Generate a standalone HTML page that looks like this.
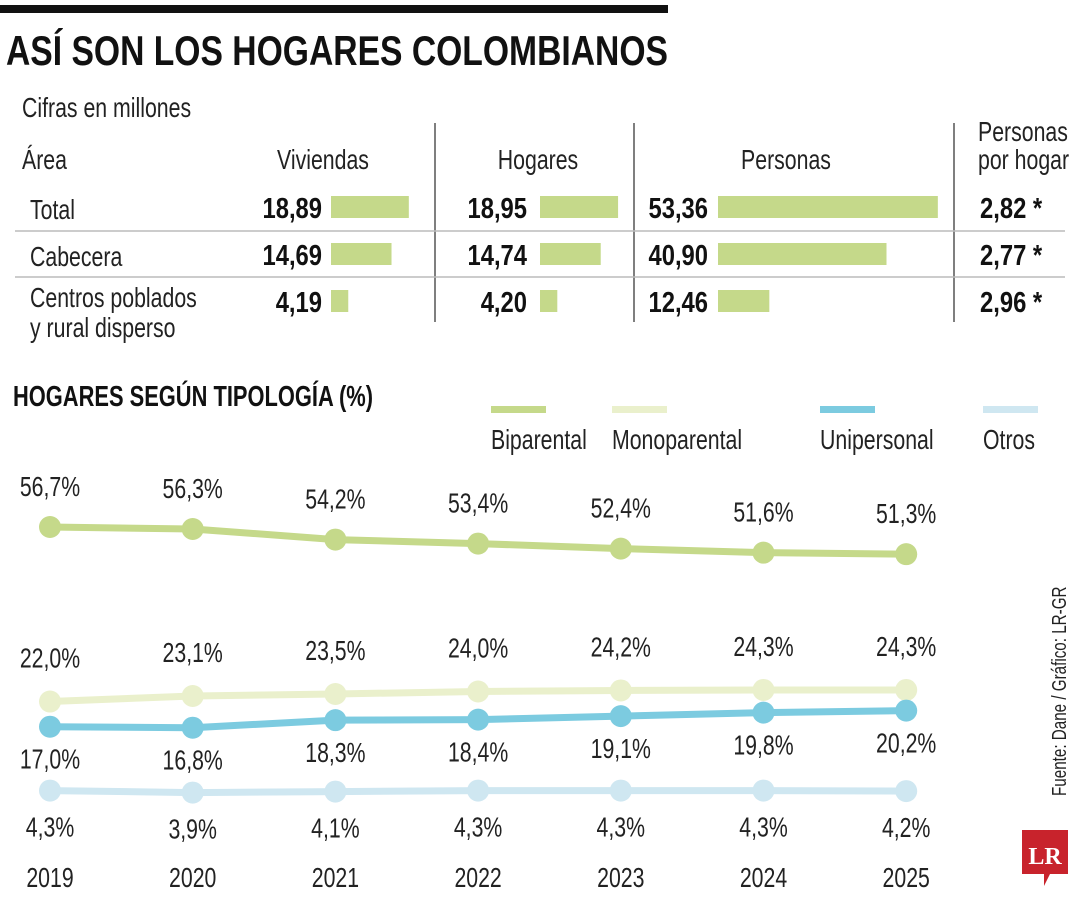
<!DOCTYPE html>
<html><head><meta charset="utf-8"><style>
html,body{margin:0;padding:0;background:#fff;}
svg{display:block;font-family:"Liberation Sans Narrow","Liberation Sans",sans-serif;}
</style></head><body>
<svg id="c" width="1080" height="900" viewBox="0 0 1080 900">
<rect x="0" y="5" width="668" height="8" fill="#111"/>
<text x="6" y="65" font-size="42" font-weight="bold" textLength="662" lengthAdjust="spacingAndGlyphs" fill="#111">ASÍ SON LOS HOGARES COLOMBIANOS</text>
<text x="22" y="117" font-size="28" fill="#222">Cifras en millones</text>
<g id="table"></g>
<text x="13" y="406" font-size="29" font-weight="bold" fill="#111" textLength="360" lengthAdjust="spacingAndGlyphs">HOGARES SEGÚN TIPOLOGÍA (%)</text>
<g id="legend"></g>
<g id="chart"></g>
<text transform="translate(1066,796) rotate(-90)" font-size="20" fill="#222">Fuente: Dane / Gráfico: LR-GR</text>
<g>
<path d="M1022 830 H1068 V874 H1050 L1044 886 L1044 874 H1022 Z" fill="#c8232c"/>
<text x="1045" y="864" font-size="24" font-weight="bold" font-family="Liberation Serif,serif" fill="#fff" text-anchor="middle" data-keep="1">LR</text>
</g>
</svg>
<script>
const rowsLabels=["Total","Cabecera"];
const viviendas=[18.89,14.69,4.19];
const hogares=[18.95,14.74,4.20];
const personas=[53.36,40.90,12.46];
const porHogar=["2,82","2,77","2,96"];

const years=["2019","2020","2021","2022","2023","2024","2025"];
const biparental=[56.7,56.3,54.2,53.4,52.4,51.6,51.3];
const monoparental=[22.0,23.1,23.5,24.0,24.2,24.3,24.3];
const unipersonal=[17.0,16.8,18.3,18.4,19.1,19.8,20.2];
const otros=[4.3,3.9,4.1,4.3,4.3,4.3,4.2];

const NS="http://www.w3.org/2000/svg";
function mk(tag,attrs,parent,txt){const e=document.createElementNS(NS,tag);for(const k in attrs)e.setAttribute(k,attrs[k]);if(txt!==undefined)e.textContent=txt;parent.appendChild(e);return e;}
const fmt=v=>v.toFixed(2).replace(".",",");
const fmt1=v=>v.toFixed(1).replace(".",",")+"%";
const FS=28;

const T=document.getElementById("table");
let e;
e=mk("text",{x:22,y:169,"font-size":FS,fill:"#222"},T,"Área");


[["Viviendas",323],["Hogares",538],["Personas",786]].forEach(h=>{
  e=mk("text",{x:h[1],y:169,"font-size":FS,fill:"#222","text-anchor":"middle"},T,h[0]);
  
  
});
e=mk("text",{x:978,y:141,"font-size":FS,fill:"#222"},T,"Personas");


mk("text",{x:978,y:169,"font-size":FS,fill:"#222"},T,"por hogar");
[435,634,954].forEach(x=>{
  e=mk("line",{x1:x,x2:x,y1:123,y2:322,stroke:"#555","stroke-width":1.5},T);
  
  
});
[231,277].forEach(y=>{
  e=mk("line",{x1:15,x2:1065,y1:y,y2:y,stroke:"#bbb","stroke-width":1.5},T);
  
  
});
const rowY=[196,243,290];
const sc=4.12;
mk("text",{x:30,y:219,"font-size":FS,fill:"#222"},T,rowsLabels[0]);
mk("text",{x:30,y:266,"font-size":FS,fill:"#222"},T,rowsLabels[1]);
mk("text",{x:30,y:307,"font-size":FS,fill:"#222"},T,"Centros poblados");
mk("text",{x:30,y:337,"font-size":FS,fill:"#222"},T,"y rural disperso");
const cols=[[viviendas,322,331],[hogares,527,540],[personas,708,718]];
cols.forEach(c=>{
  c[0].forEach((v,i)=>{
    e=mk("text",{x:c[1],y:rowY[i]+22,"font-size":29,"font-weight":"bold",fill:"#111","text-anchor":"end"},T,fmt(v));
    
    
    e=mk("rect",{x:c[2],y:rowY[i],width:v*sc,height:22,fill:"#c5d98a"},T);
    
    
  });
});
porHogar.forEach((v,i)=>{
  e=mk("text",{x:980,y:rowY[i]+22,"font-size":29,"font-weight":"bold",fill:"#111"},T,v+" *");
  
  
});

const L=document.getElementById("legend");
const series=[
 {name:"Biparental",data:biparental,color:"#c5d98a",lx:491,off:-31},
 {name:"Monoparental",data:monoparental,color:"#eaf0cc",lx:612,off:-34},
 {name:"Unipersonal",data:unipersonal,color:"#7ccbe0",lx:820,off:42},
 {name:"Otros",data:otros,color:"#cfe7f1",lx:983,off:46}
];
series.forEach(s=>{
  e=mk("rect",{x:s.lx,y:406,width:55,height:7,fill:s.color},L);
  
  
  e=mk("text",{x:s.lx,y:449,"font-size":FS,fill:"#222"},L,s.name);
  
  
});

const C=document.getElementById("chart");
const xS=i=>50+i*142.7;
const yS=v=>527+(56.7-v)*5.03;
years.forEach((y,i)=>{
  e=mk("text",{x:xS(i),y:887,"font-size":FS,fill:"#222","text-anchor":"middle"},C,y);
  
  
});
series.forEach(s=>{
  const g=mk("g",{},C);
  
  
  const pl=mk("polyline",{points:s.data.map((v,i)=>xS(i)+","+yS(v)).join(" "),fill:"none",stroke:s.color,"stroke-width":7,"stroke-linejoin":"round"},g);
  
  
  s.data.forEach((v,i)=>{
    const c=mk("circle",{cx:xS(i),cy:yS(v),r:11,fill:s.color},g);
    
    
    const t=mk("text",{x:xS(i),y:yS(v)+s.off,"font-size":FS,fill:"#222","text-anchor":"middle"},g,fmt1(v));
    
    
  });
});

document.querySelectorAll("#c text").forEach(t=>{
  if(t.hasAttribute("textLength")||t.hasAttribute("data-keep"))return;
  const f=t.getAttribute("font-weight")==="bold"?0.82:0.76;
  const len=t.getComputedTextLength();
  if(len>0){t.setAttribute("textLength",(len*f).toFixed(1));t.setAttribute("lengthAdjust","spacingAndGlyphs");}
});
</script>
</body></html>
